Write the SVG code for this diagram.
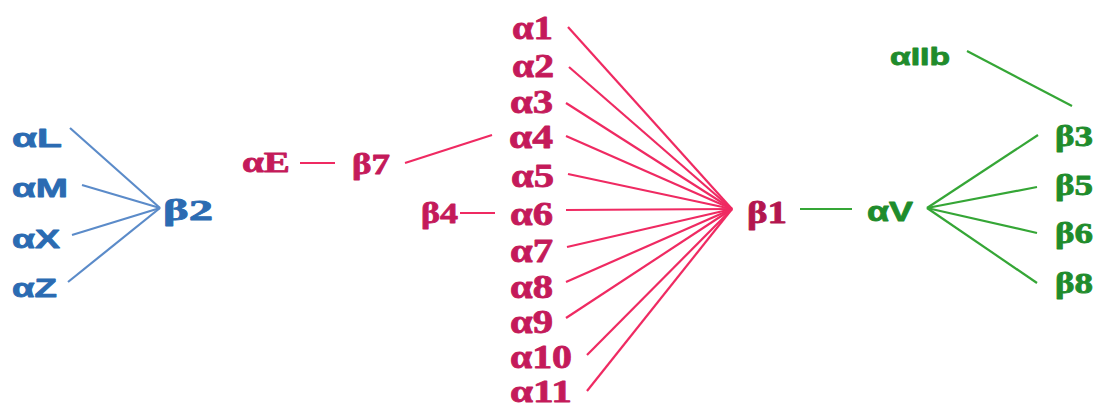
<svg xmlns="http://www.w3.org/2000/svg" width="1099" height="408" viewBox="0 0 1099 408">
<style>
text{font-weight:bold;stroke-width:0.8;stroke-linejoin:round;}
.serif{font-family:"Liberation Serif","Times New Roman",serif;}
.sans{font-family:"Liberation Sans",Arial,sans-serif;}
.pink{fill:#c41a5a;stroke:#c41a5a;}
.blue{fill:#2b6bb2;stroke:#2b6bb2;}
.green{fill:#1f8c2c;stroke:#1f8c2c;}
.dpink{fill:#b3154f;stroke:#b3154f;}
.lp{stroke:#ef2a62;stroke-width:2.2;fill:none;}
.lb{stroke:#5b8bc9;stroke-width:2.2;fill:none;}
.lg{stroke:#35a636;stroke-width:2.2;fill:none;}
</style>
<rect width="1099" height="408" fill="#ffffff"/>
<g id="connectors">
<line class="lb" x1="70" y1="128" x2="160" y2="208"/>
<line class="lb" x1="82" y1="185" x2="160" y2="208"/>
<line class="lb" x1="72" y1="235" x2="160" y2="208"/>
<line class="lb" x1="68" y1="282" x2="160" y2="208"/>
<line class="lp" x1="300" y1="163" x2="335" y2="163"/>
<line class="lp" x1="405" y1="163" x2="492" y2="135"/>
<line class="lp" x1="460" y1="213" x2="495" y2="213"/>
<line class="lp" x1="568" y1="27" x2="732" y2="209"/>
<line class="lp" x1="569" y1="67" x2="732" y2="209"/>
<line class="lp" x1="566" y1="103" x2="732" y2="209"/>
<line class="lp" x1="566" y1="136" x2="732" y2="209"/>
<line class="lp" x1="568" y1="174" x2="732" y2="209"/>
<line class="lp" x1="566" y1="210" x2="732" y2="209"/>
<line class="lp" x1="567" y1="247" x2="732" y2="209"/>
<line class="lp" x1="566" y1="282" x2="732" y2="209"/>
<line class="lp" x1="566" y1="318" x2="732" y2="209"/>
<line class="lp" x1="587" y1="355" x2="732" y2="209"/>
<line class="lp" x1="587" y1="391" x2="732" y2="209"/>
<line class="lg" x1="800" y1="209" x2="852" y2="209"/>
<line class="lg" x1="927" y1="208" x2="1038" y2="135"/>
<line class="lg" x1="927" y1="208" x2="1037" y2="187"/>
<line class="lg" x1="927" y1="208" x2="1037" y2="233"/>
<line class="lg" x1="927" y1="208" x2="1037" y2="283"/>
<line class="lg" x1="967" y1="51" x2="1072" y2="106"/>
</g>
<g id="aL"><text class="sans blue" x="12" y="147" font-size="26" textLength="50" lengthAdjust="spacingAndGlyphs">αL</text></g>
<g id="aM"><text class="sans blue" x="12" y="197" font-size="26" textLength="56" lengthAdjust="spacingAndGlyphs">αM</text></g>
<g id="aX"><text class="sans blue" x="12" y="248" font-size="26" textLength="48" lengthAdjust="spacingAndGlyphs">αX</text></g>
<g id="aZ"><text class="sans blue" x="12" y="297" font-size="26" textLength="45" lengthAdjust="spacingAndGlyphs">αZ</text></g>
<g id="b2"><text class="serif blue" x="163" y="220" font-size="30" textLength="50" lengthAdjust="spacingAndGlyphs">β2</text></g>
<g id="aE"><text class="serif pink" x="242" y="172" font-size="30" textLength="48" lengthAdjust="spacingAndGlyphs">αE</text></g>
<g id="b7"><text class="serif pink" x="352" y="174" font-size="30" textLength="38" lengthAdjust="spacingAndGlyphs">β7</text></g>
<g id="b4"><text class="serif pink" x="421" y="223" font-size="30" textLength="37" lengthAdjust="spacingAndGlyphs">β4</text></g>
<g id="a1"><text class="serif pink" x="512" y="39" font-size="33" textLength="41" lengthAdjust="spacingAndGlyphs">α1</text></g>
<g id="a2"><text class="serif pink" x="512" y="77" font-size="33" textLength="42" lengthAdjust="spacingAndGlyphs">α2</text></g>
<g id="a3"><text class="serif pink" x="510" y="113" font-size="33" textLength="43" lengthAdjust="spacingAndGlyphs">α3</text></g>
<g id="a4"><text class="serif pink" x="509" y="148" font-size="33" textLength="44" lengthAdjust="spacingAndGlyphs">α4</text></g>
<g id="a5"><text class="serif pink" x="511" y="187" font-size="33" textLength="43" lengthAdjust="spacingAndGlyphs">α5</text></g>
<g id="a6"><text class="serif pink" x="510" y="225" font-size="33" textLength="43" lengthAdjust="spacingAndGlyphs">α6</text></g>
<g id="a7"><text class="serif pink" x="510" y="262" font-size="33" textLength="43" lengthAdjust="spacingAndGlyphs">α7</text></g>
<g id="a8"><text class="serif pink" x="510" y="298" font-size="33" textLength="43" lengthAdjust="spacingAndGlyphs">α8</text></g>
<g id="a9"><text class="serif pink" x="510" y="333" font-size="33" textLength="43" lengthAdjust="spacingAndGlyphs">α9</text></g>
<g id="a10"><text class="serif pink" x="510" y="368" font-size="33" textLength="62" lengthAdjust="spacingAndGlyphs">α10</text></g>
<g id="a11"><text class="serif pink" x="510" y="402" font-size="32" textLength="62" lengthAdjust="spacingAndGlyphs">α11</text></g>
<g id="b1"><text class="serif dpink" x="747" y="223" font-size="32" textLength="40" lengthAdjust="spacingAndGlyphs">β1</text></g>
<g id="aV"><text class="sans green" x="867" y="221" font-size="27" textLength="46" lengthAdjust="spacingAndGlyphs">αV</text></g>
<g id="aIIb"><text class="sans green" x="890" y="65" font-size="24" textLength="60" lengthAdjust="spacingAndGlyphs">αIIb</text></g>
<g id="b3"><text class="serif green" x="1055" y="146" font-size="30" textLength="38" lengthAdjust="spacingAndGlyphs">β3</text></g>
<g id="b5"><text class="serif green" x="1055" y="195" font-size="30" textLength="38" lengthAdjust="spacingAndGlyphs">β5</text></g>
<g id="b6"><text class="serif green" x="1055" y="243" font-size="30" textLength="38" lengthAdjust="spacingAndGlyphs">β6</text></g>
<g id="b8"><text class="serif green" x="1055" y="293" font-size="30" textLength="38" lengthAdjust="spacingAndGlyphs">β8</text></g>
</svg>
